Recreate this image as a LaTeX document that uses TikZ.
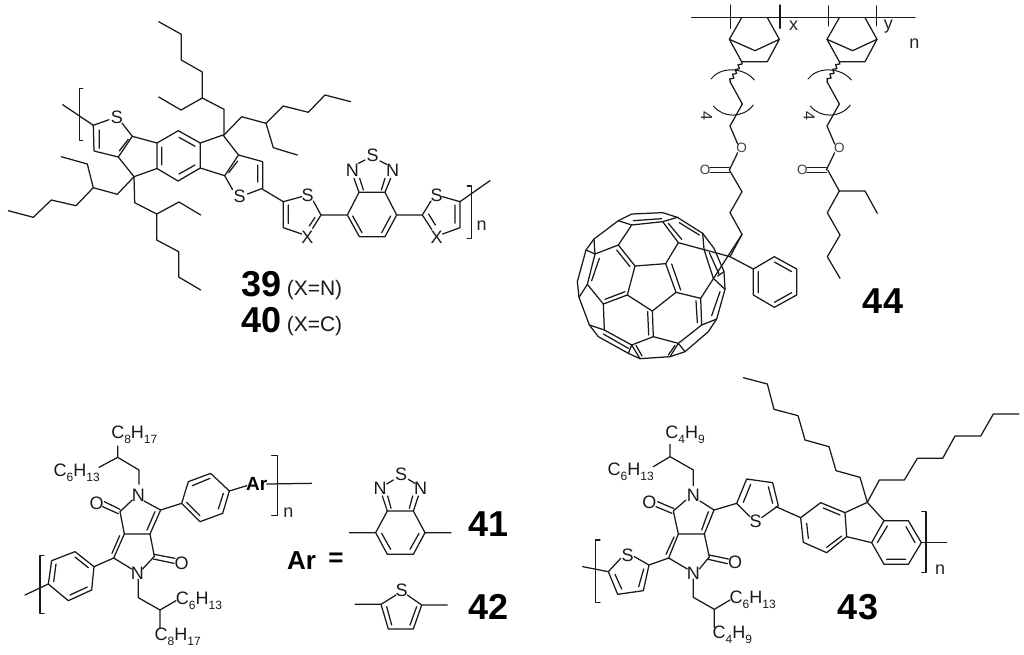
\documentclass[tikz,border=0pt]{standalone}
\usepackage{fontspec}
\setmainfont{Liberation Sans}
\usetikzlibrary{decorations.pathmorphing}
\newcommand{\sbs}[1]{\raisebox{-0.28em}{\fontsize{12}{12}\selectfont #1}}
\tikzset{
  x=1pt,y=-1pt,
  bond/.style={line width=1.25pt,draw=black!90,line cap=round,line join=round},
  thin bond/.style={bond,line width=1pt},
  atom/.style={inner sep=0pt,font=\fontsize{18}{18}\selectfont,text=black!90},
  small atom/.style={inner sep=0pt,font=\fontsize{13.5}{14}\selectfont,text=black!75},
  four/.style={inner sep=0pt,font=\fontsize{16}{16}\selectfont,text=black!85},
  letter/.style={inner sep=0pt,font=\fontsize{18}{18}\selectfont,text=black!85},
  arlabel/.style={inner sep=0pt,font=\fontsize{19}{20}\selectfont\bfseries},
  arbig/.style={inner sep=0pt,font=\fontsize{26}{28}\selectfont\bfseries},
  cmpd/.style={inner sep=0pt,font=\fontsize{36}{40}\selectfont\bfseries},
  note/.style={inner sep=0pt,font=\fontsize{21}{22}\selectfont,text=black!90},
  wavy/.style={bond,decorate,decoration={snake,amplitude=1.6pt,segment length=5.5pt}},
  zoomat/.style 2 args={shift={(#1 pt,-#2 pt)},x=0.33333pt,y=-0.33333pt},
}
\begin{document}
\begin{tikzpicture}
\useasboundingbox (0,0) rectangle (1024,654);
% ---------- 39/40 ----------
\draw[bond] (82.7,88.3)--(79.3,88.3)--(79.3,140.3)--(82.7,140.3);
\draw[bond] (62.7,104.7)--(93.3,125.3);
\node[atom] (s1) at (117,117) {S};
\draw[bond] (93.3,125.3)--(109,119.7) (122,123)--(132.3,136.3)--(118.3,157)--(94,151)--(93.3,125.3);
\draw[bond] (128.3,139.3)--(119.3,151) (99.3,130)--(99.3,148.3);
\draw[bond] (132.3,136.3)--(157,143)--(157,168.5)--(134,176.7)--(118.3,157);
\draw[bond] (157,143)--(178.3,130.7)--(200.3,143)--(200.3,168)--(178,181)--(157,168.5);
\draw[bond] (161.7,147)--(161.7,165) (179,137.3)--(195,146.3) (195,165)--(179,174);
\draw[bond] (200.3,143)--(223,135)--(238.5,155)--(224.7,175.7)--(200.3,168);
\node[atom] (s2) at (239.7,196.5) {S};
\draw[bond] (238.5,155)--(262.7,161.7)--(262.7,188.3)--(247.5,194) (232.5,189.5)--(224.7,175.7);
\draw[bond] (228.7,172.7)--(237.7,161) (257.7,182)--(257.7,165);
% alkyl chains
\draw[bond] (224,135)--(224,109.3)--(202.3,98)--(202.3,72)--(181.3,60)--(181.3,34.3)--(158.7,21.7);
\draw[bond] (202.3,98)--(181,110)--(158.7,97);
\draw[bond] (224,135)--(241.7,116.7)--(266,123.3)--(283.3,106)--(308.3,112.3)--(325,95)--(350.7,101.7);
\draw[bond] (266,123.3)--(273.3,147.7)--(297.3,155);
\draw[bond] (134,176.7)--(117.3,194.3)--(93.3,187.7)--(76,205.7)--(51.3,200)--(33.3,217.3)--(8.3,210.7);
\draw[bond] (93.3,187.7)--(87.3,164)--(61.3,156.7);
\draw[bond] (134,176.7)--(134.7,202.7)--(156.7,214)--(179,202)--(200.7,215);
\draw[bond] (156.7,214)--(156.7,240)--(178.7,251.7)--(178.7,277)--(200.7,290);
\begin{scope}[zoomat={260}{130}]
\draw[bond] (8,178)--(70,215)--(125,200) (160,213)--(183,255)--(158,295);
\draw[bond] (70,215)--(70,293)--(125,312) (85,225)--(85,280) (165,262)--(148,288);
\node[atom] (s3) at (143,197) {S};
\node[atom] (x1) at (142,322) {X};
\draw[bond] (183,255)--(262,255)--(297,187)--(375,187)--(410,255)--(375,320)--(298,320)--(262,255);
\draw[bond] (278,258)--(306,308) (392,258)--(365,308);
\node[atom] (n1) at (277,122) {N};
\node[atom] (n2) at (398,122) {N};
\node[atom] (s4) at (338,75) {S};
\draw[bond] (295,100)--(315,90) (360,93)--(380,103);
\draw[bond] (282,145)--(297,187) (299,145)--(310,180) (392,145)--(375,187) (375,145)--(364,180);
\draw[bond] (410,255)--(487,255)--(513,213) (547,200)--(600,215)--(600,293)--(548,312);
\draw[bond] (487,255)--(515,298) (506,252)--(526,285) (585,225)--(585,280);
\node[atom] (s5) at (530,197) {S};
\node[atom] (x2) at (530,322) {X};
\draw[bond] (600,215)--(690,152);
\draw[bond] (622,168)--(634,168)--(634,325)--(622,325);
\node[letter] (n3) at (665,287) {n};
\end{scope}
\node[cmpd] (c39) at (261.5,284) {39};
\node[cmpd] (c40) at (261.5,320.5) {40};
\node[note] (x39) at (314.5,290) {(X=N)};
\node[note] (x40) at (314.5,326) {(X=C)};
% ---------- 44 ----------
\begin{scope}[zoomat={660}{0}]
\draw[bond] (95,53)--(765,53);
\draw[bond] (211,15)--(211,85) (360,15)--(360,85) (505,18)--(505,78) (650,18)--(650,78);
\node[letter] (lx) at (401,78) {x};
\node[letter] (ly) at (685,80) {y};
\node[letter] (ln) at (763,132) {n};
\foreach \dx/\ox in {0/0,293/291}{
\draw[bond] (245+\dx,53)--(208+\dx,118)--(245+\dx,185)--(322+\dx,185)--(358+\dx,118)--(322+\dx,53);
\draw[bond] (208+\dx,118)--(285+\dx,152)--(358+\dx,118);
\draw[wavy] (245+\dx,185)--(210+\ox,245);
\draw[bond] (210+\ox,245)--(247+\ox,312)--(210+\ox,378)--(233+\ox,432);
\draw[bond] (233+\ox,458)--(208+\ox,510);
\draw[bond] (150+\ox,503)--(208+\ox,503) (150+\ox,517)--(208+\ox,517);
\draw[thin bond] (153+\ox,237) .. controls (180+\ox,200) and (250+\ox,200) .. (283+\ox,240);
\draw[thin bond] (160+\ox,318) .. controls (190+\ox,355) and (250+\ox,355) .. (280+\ox,315);
}
\node[small atom] (o1) at (245,445) {O};
\node[small atom] (o2) at (538,445) {O};
\node[small atom] (o3) at (135,510) {O};
\node[small atom] (o4) at (427,510) {O};
\node[four,rotate=-90] (f1) at (140,348) {4};
\node[four,rotate=-90] (f2) at (447,348) {4};
\end{scope}
\draw[bond] (729.3,170)--(742,191.7)--(730,212.7)--(742,234.3)--(730,256.7);
\draw[bond] (827.7,170)--(839.3,191)--(827.3,212.7)--(840,235)--(827.3,256.7)--(840,278.3);
\draw[bond] (839.3,191)--(865,191)--(877.3,213.3);
\node[cmpd] (c44) at (883,301) {44};
\begin{scope}[zoomat={570}{170}]
\draw[bond] (480,260)--(550,297)--(613,260)--(680,297)--(680,375)--(613,412)--(550,375)--(550,297);
\draw[bond] (565,305)--(565,368) (613,276)--(665,305) (665,368)--(613,397);
\draw[bond] (480,260)--(325,218) (516,193)--(392,385);
% outline
\draw[bond] (145,152)--(185,132)--(278,128)--(322,142)--(398,190)--(432,235)--(462,305)--(465,358)--(440,447)--(415,485)--(345,545)--(300,560)--(210,566)--(175,550)--(85,500)--(58,465)--(27,382)--(22,335)--(48,240)--(72,207)--cycle;
% central pentagon and spokes
\draw[bond] (195,288)--(287,281)--(318,367)--(247,423)--(172,375)--cycle;
\draw[bond] (195,288)--(145,225)--(185,165)--(278,155)--(325,218)--(287,281);
\draw[bond] (318,367)--(392,385)--(395,465)--(325,520)--(250,500)--(247,423);
\draw[bond] (172,375)--(100,402)--(103,480)--(185,525)--(250,500);
\draw[bond] (100,402)--(52,343)--(75,252)--(145,225);
% strip links
\draw[bond] (185,165)--(145,152) (278,155)--(322,142);
\draw[bond] (398,190)--(402,238)--(430,325)--(465,358);
\draw[bond] (462,305)--(443,318);
\draw[bond] (395,465)--(440,447) (325,520)--(345,545) (325,520)--(300,560) (185,525)--(210,566) (185,525)--(175,550);
\draw[bond] (103,480)--(58,465) (52,343)--(27,382) (75,252)--(48,240) (75,252)--(72,207);
% inner lines of the double bonds
\draw[bond] (190,152)--(275,146) (295,160)--(335,208) (328,158)--(388,195);
\draw[bond] (418,248)--(447,312);
\draw[bond] (305,282)--(332,360) (233,425)--(236,495) (378,392)--(382,458) (425,437)--(450,365);
\draw[bond] (105,388)--(165,365) (140,240)--(180,290) (65,332)--(88,265);
\draw[bond] (100,492)--(175,535) (198,526)--(216,558) (315,526)--(295,555);
\end{scope}
% ---------- 41/42 polymer ----------
\begin{scope}[zoomat={20}{415}]
\node[atom] (n4) at (355,240) {N};
\node[atom] (n5) at (352,475) {N};
\node[atom] (o5) at (230,265) {O};
\node[atom] (o6) at (485,445) {O};
\node[atom] (l1) at (343,60) {C\sbs{8}H\sbs{17}};
\node[atom] (l2) at (170,172) {C\sbs{6}H\sbs{13}};
\node[atom] (l3) at (537,558) {C\sbs{6}H\sbs{13}};
\node[atom] (l4) at (473,665) {C\sbs{8}H\sbs{17}};
\draw[bond] (293,93)--(293,127) (237,157)--(293,127)--(357,165)--(357,208);
\draw[bond] (337,255)--(300,290)--(313,357)--(390,357)--(422,285)--(372,258);
\draw[bond] (405,290)--(381,345);
\draw[bond] (313,357)--(281,429)--(335,462) (368,462)--(403,424)--(390,357);
\draw[bond] (299,362)--(276,415);
\draw[bond] (300,283)--(253,260) (295,296)--(248,275) (403,418)--(465,430) (400,432)--(462,445);
\draw[bond] (355,493)--(355,548)--(420,585)--(468,557) (420,585)--(420,640);
\draw[bond] (422,285)--(485,265)--(505,200)--(572,175)--(628,228)--(608,295)--(540,320)--(485,265);
\draw[bond] (517,212)--(570,190) (610,235)--(595,282) (540,302)--(500,262);
\draw[bond] (628,228)--(680,212);
\node[arlabel] (ar1) at (710,207) {Ar};
\draw[bond] (740,207)--(875,205);
\draw[bond] (755,122)--(772,122)--(772,302)--(755,302);
\node[letter] (n6) at (805,293) {n};
\draw[bond] (281,429)--(222,455)--(165,410)--(95,437)--(85,507)--(145,557)--(215,525)--(222,455);
\draw[bond] (165,426)--(205,458) (108,447)--(101,500) (150,540)--(202,516);
\draw[bond] (85,507)--(15,540);
\draw[bond] (72,422)--(60,422)--(60,595)--(72,595);
\end{scope}
% ---------- Ar = ----------
\begin{scope}[zoomat={270}{470}]
\node[arbig] (ar2) at (95,273) {Ar};
\node[arbig] (eq) at (198,270) {=};
\draw[bond] (238,188)--(317,188)--(352,123)--(430,123)--(465,188)--(430,253)--(352,253)--(317,188) (465,188)--(543,188);
\draw[bond] (335,190)--(362,238) (447,190)--(420,238);
\node[atom] (n7) at (330,55) {N};
\node[atom] (n8) at (452,55) {N};
\node[atom] (s6) at (393,12) {S};
\draw[bond] (350,42)--(370,30) (415,28)--(435,40);
\draw[bond] (337,78)--(352,123) (353,78)--(363,115) (445,78)--(430,123) (428,78)--(418,115);
\node[cmpd] (c41) at (655,163) {41};
\node[atom] (s7) at (395,362) {S};
\draw[bond] (255,403)--(333,403)--(355,477)--(430,477)--(455,405)--(532,405);
\draw[bond] (333,403)--(378,375) (412,375)--(455,405);
\draw[bond] (350,410)--(365,465) (420,465)--(440,410);
\node[cmpd] (c42) at (655,410) {42};
\end{scope}
% ---------- 43 ----------
\begin{scope}[zoomat={580}{415}]
\node[atom] (n9) at (340,240) {N};
\node[atom] (n10) at (340,475) {N};
\node[atom] (o7) at (208,262) {O};
\node[atom] (o8) at (465,443) {O};
\node[atom] (l5) at (315,58) {C\sbs{4}H\sbs{9}};
\node[atom] (l6) at (152,170) {C\sbs{6}H\sbs{13}};
\node[atom] (l7) at (518,555) {C\sbs{6}H\sbs{13}};
\node[atom] (l8) at (457,660) {C\sbs{4}H\sbs{9}};
\draw[bond] (270,88)--(270,125) (220,155)--(270,125)--(340,165)--(340,212);
\draw[bond] (318,255)--(280,288)--(295,357)--(373,357)--(402,285)--(360,258);
\draw[bond] (385,290)--(365,345);
\draw[bond] (295,357)--(266,429)--(322,462) (358,462)--(388,426)--(373,357);
\draw[bond] (282,366)--(258,418);
\draw[bond] (282,281)--(233,260) (276,295)--(228,275) (388,420)--(445,432) (385,433)--(442,446);
\draw[bond] (340,492)--(340,547)--(403,583)--(450,555) (403,583)--(403,637);
\node[atom] (s8) at (527,318) {S};
\draw[bond] (402,285)--(470,265)--(500,192)--(578,203)--(595,272)--(545,308) (470,265)--(510,305);
\draw[bond] (490,262)--(512,208) (565,215)--(578,265);
\node[atom] (s9) at (143,420) {S};
\draw[bond] (266,429)--(207,450)--(190,527)--(113,538)--(85,470)--(122,430) (207,450)--(163,425);
\draw[bond] (191,462)--(176,515) (125,522)--(105,478);
\draw[bond] (85,470)--(8,455);
\draw[bond] (60,375)--(47,375)--(47,562)--(60,562);
\end{scope}
\begin{scope}[zoomat={760}{370}]
\draw[bond] (48,410)--(122,443);
\draw[bond] (322,397)--(300,322)--(228,302)--(207,230)--(135,210)--(114,137)--(42,118)--(22,42)--(-50,23);
\draw[bond] (322,397)--(358,330)--(433,330)--(472,265)--(548,265)--(585,198)--(662,198)--(700,132)--(777,132);
\draw[bond] (255,428)--(322,397)--(372,452) (260,500)--(335,518);
\draw[bond] (122,443)--(182,398)--(255,428)--(260,500)--(200,548)--(130,517)--cycle;
\draw[bond] (190,414)--(240,435) (140,460)--(145,505) (245,498)--(200,532);
\draw[bond] (372,452)--(445,452)--(484,518)--(445,583)--(372,583)--(335,518)--cycle;
\draw[bond] (382,468)--(352,518) (438,470)--(465,518) (380,568)--(437,568);
\draw[bond] (484,518)--(560,518);
\draw[bond] (485,425)--(498,425)--(498,607)--(485,607);
\node[letter] (n11) at (540,600) {n};
\end{scope}
\node[cmpd] (c43) at (858,607) {43};
\end{tikzpicture}
\end{document}
